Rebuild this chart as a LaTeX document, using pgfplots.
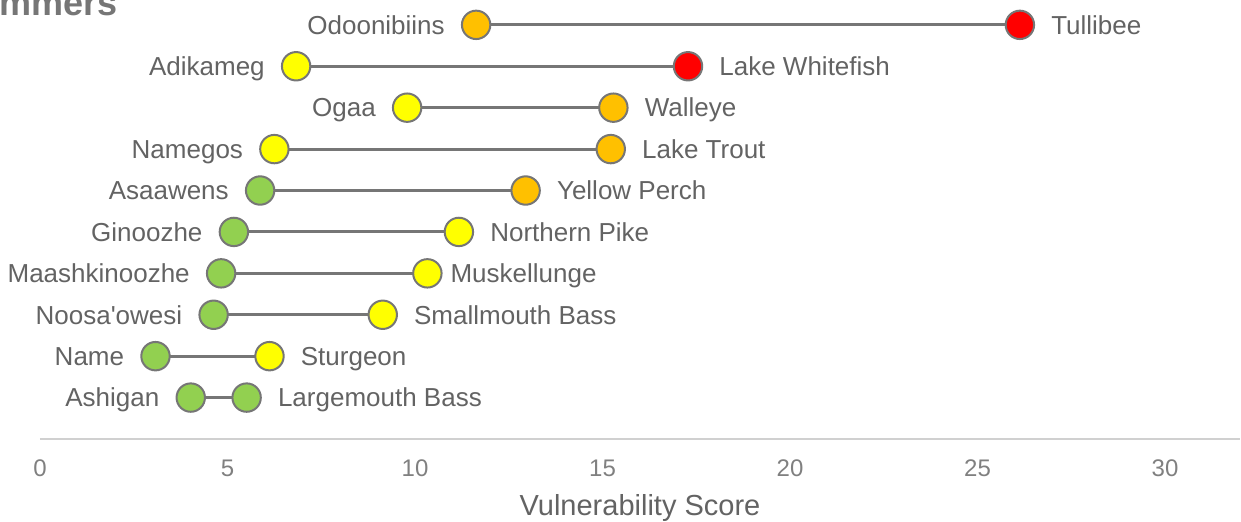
\documentclass[border=0pt]{standalone}
\usepackage{fontspec}
\setmainfont{Liberation Sans}
\usepackage{pgfplots}
\usepackage{pgfplotstable}
\pgfplotsset{compat=1.18}
\definecolor{mgreen}{HTML}{92D050}
\definecolor{myellow}{HTML}{FFFF00}
\definecolor{morange}{HTML}{FFC000}
\definecolor{mred}{HTML}{FF0000}
\definecolor{mgrey}{HTML}{767676}
\definecolor{lgrey}{HTML}{D0D0D0}
\definecolor{tgrey}{HTML}{636363}
\definecolor{tickgrey}{HTML}{808080}
\definecolor{titlegrey}{HTML}{767676}

\pgfplotstableread[col sep=comma]{
y,lo,hi,lolab,hilab,lc,hc,rs
10,11.63,26.13,Odoonibiins,Tullibee,o,r,15.5
9,6.83,17.28,Adikameg,Lake Whitefish,y,r,15.5
8,9.79,15.29,Ogaa,Walleye,y,o,15.5
7,6.25,15.22,Namegos,Lake Trout,y,o,15.5
6,5.87,12.95,Asaawens,Yellow Perch,g,o,15.5
5,5.17,11.17,Ginoozhe,Northern Pike,g,y,15.5
4,4.83,10.33,Maashkinoozhe,Muskellunge,g,y,11.4
3,4.63,9.14,Noosa\textquotesingle owesi,Smallmouth Bass,g,y,15.5
2,3.08,6.12,Name,Sturgeon,g,y,15.5
1,4.02,5.51,Ashigan,Largemouth Bass,g,g,15.5
}\fishdata

\begin{document}
\begin{tikzpicture}
\begin{axis}[
  at={(0,0)}, anchor=south west,
  scale only axis, width=600pt, height=219.5pt,
  xmin=0, xmax=32, ymin=0, ymax=10.6,
  axis x line=bottom, axis y line=none,
  x axis line style={draw=lgrey, line width=1pt, -},
  xtick={0,5,10,15,20,25,30}, ytick=\empty,
  major tick length=0pt,
  /pgf/number format/assume math mode=true,
  xticklabel style={font=\fontsize{12}{14}\selectfont, text=tickgrey, anchor=base, yshift=-18.5pt, inner sep=0pt},
  xlabel={Vulnerability Score},
  xlabel style={at={(axis description cs:0.5,0)}, anchor=base, yshift=-38pt, font=\fontsize{14.5}{17}\selectfont, text=tgrey, inner sep=0pt},
  clip=false,
  scatter/classes={
    g={mark=*, fill=mgreen, draw=mgrey, line width=1pt},
    y={mark=*, fill=myellow, draw=mgrey, line width=1pt},
    o={mark=*, fill=morange, draw=mgrey, line width=1pt},
    r={mark=*, fill=mred, draw=mgrey, line width=1pt}},
]
% connecting lines
\addplot[forget plot, draw=none, mark=none,
  error bars/.cd, x dir=plus, x explicit, error mark=none,
  error bar style={draw=mgrey, line width=1.5pt, solid}]
  table[x=lo, y=y, x error expr=\thisrow{hi}-\thisrow{lo}] {\fishdata};
% markers
\addplot[scatter, only marks, point meta=explicit symbolic, mark size=7.1pt]
  table[x=lo, y=y, meta=lc] {\fishdata};
\addplot[scatter, only marks, point meta=explicit symbolic, mark size=7.1pt]
  table[x=hi, y=y, meta=hc] {\fishdata};
% labels
\addplot[only marks, mark=none, point meta=explicit symbolic, nodes near coords,
  nodes near coords style={anchor=base east, xshift=-15.5pt, yshift=-4.65pt, inner sep=0pt,
    font=\fontsize{13}{15}\selectfont, text=tgrey}]
  table[x=lo, y=y, meta=lolab] {\fishdata};
\addplot[only marks, mark=none, point meta=explicit symbolic, nodes near coords,
  visualization depends on={\thisrow{rs} \as \rshift},
  nodes near coords style={anchor=base west, xshift=\rshift pt, yshift=-4.65pt, inner sep=0pt,
    font=\fontsize{13}{15}\selectfont, text=tgrey}]
  table[x=hi, y=y, meta=hilab] {\fishdata};
\end{axis}
\node[anchor=base east, inner sep=0pt, font=\fontsize{18}{21}\selectfont\bfseries, text=titlegrey] at (39pt,212pt) {Swimmers};
\pgfresetboundingbox
\path[use as bounding box] (-20pt,-41pt) rectangle (600.5pt,219.5pt);
\end{tikzpicture}
\end{document}
